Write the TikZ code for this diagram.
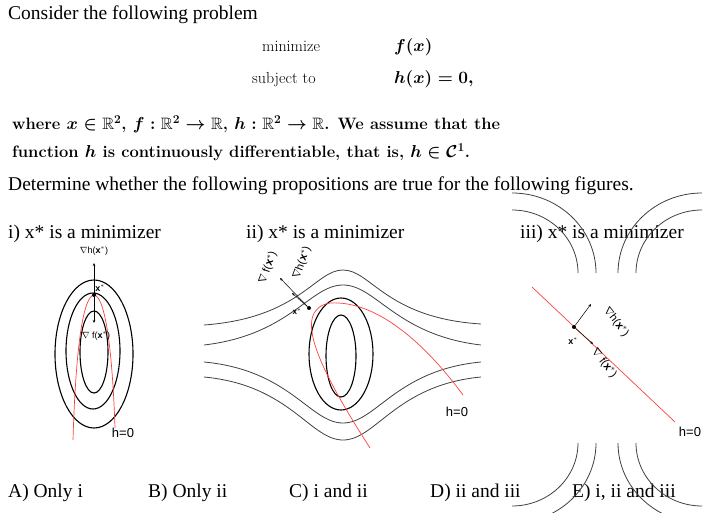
\documentclass[tikz,border=0pt]{standalone}
\usepackage{amsmath,amssymb}
\usepackage{fontspec}
\usetikzlibrary{arrows.meta}
\newfontfamily\tnr{Liberation Serif}
\newfontfamily\ars{Liberation Sans}
\begin{document}
\begin{tikzpicture}[x=1pt,y=-1pt,
  ttxt/.style={anchor=base west,inner sep=0pt,font=\tnr\fontsize{19.5}{22}\selectfont},
  cmtxt/.style={anchor=base west,inner sep=0pt,font=\fontsize{16.5}{20}\selectfont\bfseries\boldmath},
  mmtxt/.style={anchor=base west,inner sep=0pt,font=\fontsize{16}{20}\selectfont},
  labtxt/.style={inner sep=0pt,font=\ars\fontsize{9}{10}\selectfont},
  hltxt/.style={inner sep=0pt,font=\ars\fontsize{13}{14}\selectfont},
  lev/.style={draw=black!75,line width=0.8pt},
  levb/.style={draw=black,line width=1.1pt},
  redline/.style={draw=red!75,line width=0.7pt},
  arr/.style={-{Stealth[length=3pt,width=2.5pt]},line width=0.5pt},
  xdot/.style={circle,fill=black,inner sep=0pt,minimum size=4pt}]
\useasboundingbox (0,0) rectangle (714,513);
\node[ttxt] (t1) at (8,20) {Consider the following problem};
\node[mmtxt] (m1) at (262,52) {minimize};
\node[mmtxt] (m2) at (252,84) {subject to};
\node[mmtxt] (m3) at (394,52) {$\boldsymbol{f(x)}$};
\node[mmtxt] (m4) at (394,84) {$\boldsymbol{h(x)=0,}$};
\node[cmtxt] (w1) at (12,130) {where $x\in\mathbb{R}^2$, $f:\mathbb{R}^2\to\mathbb{R}$, $h:\mathbb{R}^2\to\mathbb{R}$. We assume that the};
\node[cmtxt] (w2) at (12,158) {function $h$ is continuously differentiable, that is, $h\in\mathcal{C}^1$.};
\node[ttxt] (t2) at (8,190) {Determine whether the following propositions are true for the following figures.};
\node[ttxt] (f1) at (8,238) {i) x* is a minimizer};
\node[ttxt] (f2) at (246,238) {ii) x* is a minimizer};
\node[ttxt] (f3) at (520,238) {iii) x* is a minimizer};
\node[ttxt] (a1) at (8,497) {A) Only i};
\node[ttxt] (a2) at (148,497) {B) Only ii};
\node[ttxt] (a3) at (289,497) {C) i and ii};
\node[ttxt] (a4) at (430,497) {D) ii and iii};
\node[ttxt] (a5) at (572,497) {E) i, ii and iii};
% fig i
\draw[levb] (94,354) ellipse [x radius=39,y radius=74];
\draw[levb] (93,351) ellipse [x radius=27,y radius=58];
\draw[levb] (94,352) ellipse [x radius=14,y radius=41];
\draw[redline] (73,440) .. controls (76,340) and (84,296) .. (94,295) .. controls (104,296) and (112,340) .. (115,428);
\node[xdot] (x1) at (94,295) {};
\coordinate (h1) at (94,263);
\coordinate (g1) at (94,323);
\draw[arr] (x1) -- (h1);
\draw[arr] (x1) -- (g1);
\node[labtxt,font=\ars\bfseries\fontsize{9}{10}\selectfont] (lx1) at (100,288) {x$^*$};
\node[labtxt] (lh1) at (94,251) {$\nabla$h(\textbf{x$^*$})};
\node[labtxt] (lg1) at (96,336) {$\nabla$ f(\textbf{x$^*$})};
\node[hltxt] (hh1) at (123,433) {h=0};
% fig ii
\draw[lev] (204,325) .. controls (300,318) and (315,270) .. (343,270) .. controls (371,270) and (386,318) .. (481,324);
\draw[lev] (204,345) .. controls (290,335) and (310,285) .. (343,285) .. controls (376,285) and (396,335) .. (481,345);
\draw[lev] (204,362) .. controls (290,370) and (310,423) .. (343,423) .. controls (376,423) and (396,370) .. (481,362);
\draw[lev] (204,377) .. controls (290,385) and (310,440) .. (343,440) .. controls (376,440) and (396,385) .. (481,377);
\draw[levb] (341,354) ellipse [x radius=32,y radius=56];
\draw[levb] (341,356) ellipse [x radius=15,y radius=41];
\draw[redline] (370,448) .. controls (320,370) and (290,310) .. (330,303) .. controls (380,300) and (430,350) .. (463,395);
\node[xdot] (x2) at (309,308) {};
\coordinate (h2) at (292,293);
\coordinate (g2) at (280,278);
\draw[arr] (x2) -- (g2);
\draw[arr] (x2) -- (h2);
\node[labtxt,font=\ars\bfseries\fontsize{8}{9}\selectfont] (lx2) at (297,312) {x$^*$};
\node[labtxt,rotate=70,font=\ars\fontsize{11}{12}\selectfont] (lg2) at (268,268) {$\nabla$ f(\textbf{x$^*$})};
\node[labtxt,rotate=70,font=\ars\fontsize{11}{12}\selectfont] (lh2) at (302,263) {$\nabla$h(\textbf{x$^*$})};
\node[hltxt] (hh2) at (457,412) {h=0};
% fig iii
\foreach \r/\s in {66/63,84/80}{
  \draw[lev] (512,273) ++(0:\r) arc[start angle=0,end angle=-90,x radius=\r,y radius=\s];
  \draw[lev] (702,273) ++(180:\r) arc[start angle=180,end angle=270,x radius=\r,y radius=\s];
  \draw[lev] (512,443) ++(0:\r) arc[start angle=0,end angle=90,x radius=\r,y radius=\s];
  \draw[lev] (702,443) ++(180:\r) arc[start angle=180,end angle=90,x radius=\r,y radius=\s];
}
\coordinate (r1) at (532,287);
\coordinate (r2) at (675,422);
\draw[redline] (r1) -- (r2);
\node[xdot] (x3) at (574,327) {};
\coordinate (h3) at (591,304);
\coordinate (g3) at (593,344);
\draw[arr] (x3) -- (h3);
\draw[arr] (x3) -- (g3);
\node[labtxt,font=\ars\bfseries\fontsize{9}{10}\selectfont] (lx3) at (573,341) {x$^*$};
\node[labtxt,rotate=-52,font=\ars\fontsize{11}{12}\selectfont] (lh3) at (616,322) {$\nabla$h(\textbf{x$^*$})};
\node[labtxt,rotate=-52,font=\ars\fontsize{11}{12}\selectfont] (lg3) at (604,363) {$\nabla$ f(\textbf{x$^*$})};
\node[hltxt] (hh3) at (690,432) {h=0};
\end{tikzpicture}
\end{document}
